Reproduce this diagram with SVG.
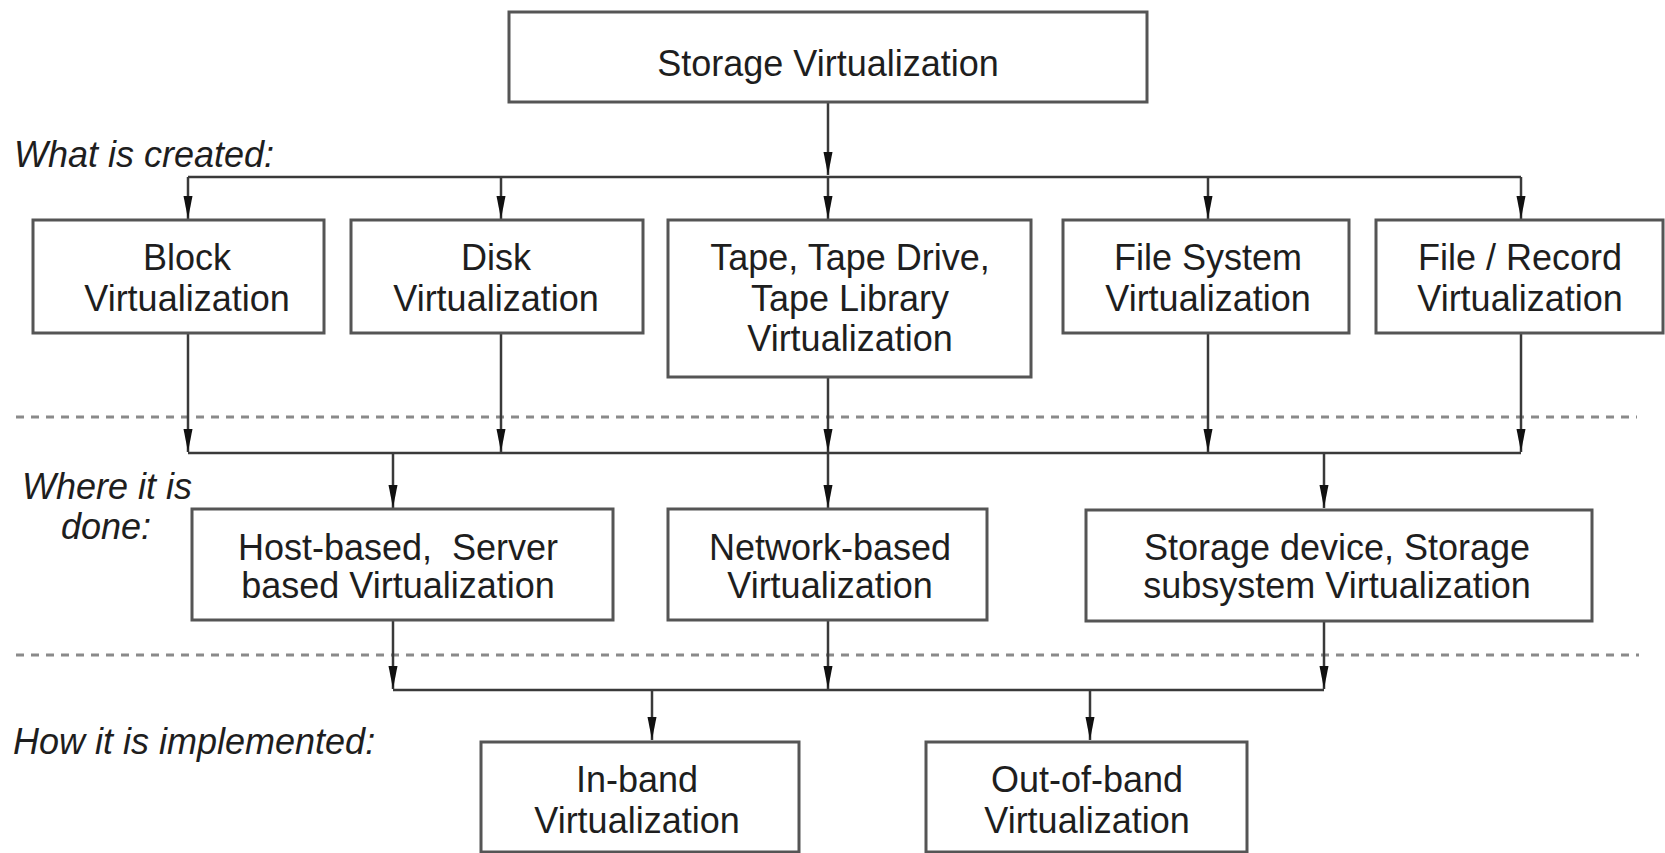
<svg xmlns="http://www.w3.org/2000/svg" width="1665" height="853" viewBox="0 0 1665 853">
<style>
  .box { fill: #ffffff; stroke: #555555; stroke-width: 3; }
  .t { font-family: "Liberation Sans", Arial, sans-serif; font-size: 36px; fill: #1e1e1e; text-anchor: middle; }
  .lbl { font-family: "Liberation Sans", Arial, sans-serif; font-size: 36px; fill: #1e1e1e; font-style: italic; }
  .ln { fill: none; stroke: #3a3a3a; stroke-width: 2.5; }
  .arr { fill: none; stroke: #3a3a3a; stroke-width: 2.5; marker-end: url(#ah); }
  .sep { fill: none; stroke: #8a8a8a; stroke-width: 3; stroke-dasharray: 8 7; }
</style>
<defs>
  <marker id="ah" markerUnits="userSpaceOnUse" markerWidth="24" markerHeight="10" viewBox="0 0 24 10" refX="23" refY="5" orient="auto">
    <path d="M0,0.5 L23,5 L0,9.5 z" fill="#111111"/>
  </marker>
</defs>
<rect width="1665" height="853" fill="#ffffff"/>

<g id="separators">
  <line class="sep" x1="16" y1="417" x2="1637" y2="417"/>
  <line class="sep" x1="16" y1="655" x2="1639" y2="655"/>
</g>

<g id="labels">
  <text class="lbl" x="14" y="167">What is created:</text>
  <text class="lbl" x="107" y="499" text-anchor="middle">Where it is</text>
  <text class="lbl" x="106" y="539" text-anchor="middle">done:</text>
  <text class="lbl" x="13" y="754">How it is implemented:</text>
</g>

<g id="connectors">
  <path class="arr" d="M828,102 V175"/>
  <path class="ln" d="M188,177 H1521"/>
  <path class="arr" d="M188,177 V219"/>
  <path class="arr" d="M501,177 V219"/>
  <path class="arr" d="M828,177 V219"/>
  <path class="arr" d="M1208,177 V219"/>
  <path class="arr" d="M1521,177 V219"/>

  <path class="arr" d="M188,333 V452"/>
  <path class="arr" d="M501,333 V452"/>
  <path class="arr" d="M828,377 V452"/>
  <path class="arr" d="M1208,333 V452"/>
  <path class="arr" d="M1521,333 V452"/>
  <path class="ln" d="M188,453 H1521"/>
  <path class="arr" d="M393,453 V508"/>
  <path class="arr" d="M828,453 V508"/>
  <path class="arr" d="M1324,453 V508"/>

  <path class="arr" d="M393,620 V689"/>
  <path class="arr" d="M828,620 V689"/>
  <path class="arr" d="M1324,621 V689"/>
  <path class="ln" d="M393,690 H1324"/>
  <path class="arr" d="M652,690 V740"/>
  <path class="arr" d="M1090,690 V740"/>
</g>

<g id="storage-virtualization">
  <rect class="box" x="509" y="12" width="638" height="90"/>
  <text class="t" x="828" y="76">Storage Virtualization</text>
</g>

<g id="block-virtualization">
  <rect class="box" x="33" y="220" width="291" height="113"/>
  <text class="t" x="187" y="270">Block</text>
  <text class="t" x="187" y="311">Virtualization</text>
</g>

<g id="disk-virtualization">
  <rect class="box" x="351" y="220" width="292" height="113"/>
  <text class="t" x="496" y="270">Disk</text>
  <text class="t" x="496" y="311">Virtualization</text>
</g>

<g id="tape-virtualization">
  <rect class="box" x="668" y="220" width="363" height="157"/>
  <text class="t" x="850" y="270">Tape, Tape Drive,</text>
  <text class="t" x="850" y="311">Tape Library</text>
  <text class="t" x="850" y="351">Virtualization</text>
</g>

<g id="filesystem-virtualization">
  <rect class="box" x="1063" y="220" width="286" height="113"/>
  <text class="t" x="1208" y="270">File System</text>
  <text class="t" x="1208" y="311">Virtualization</text>
</g>

<g id="filerecord-virtualization">
  <rect class="box" x="1376" y="220" width="287" height="113"/>
  <text class="t" x="1520" y="270">File / Record</text>
  <text class="t" x="1520" y="311">Virtualization</text>
</g>

<g id="host-based">
  <rect class="box" x="192" y="509" width="421" height="111"/>
  <text class="t" x="398" y="560" xml:space="preserve">Host-based,  Server</text>
  <text class="t" x="398" y="598">based Virtualization</text>
</g>

<g id="network-based">
  <rect class="box" x="668" y="509" width="319" height="111"/>
  <text class="t" x="830" y="560">Network-based</text>
  <text class="t" x="830" y="598">Virtualization</text>
</g>

<g id="storage-device">
  <rect class="box" x="1086" y="510" width="506" height="111"/>
  <text class="t" x="1337" y="560">Storage device, Storage</text>
  <text class="t" x="1337" y="598">subsystem Virtualization</text>
</g>

<g id="in-band">
  <rect class="box" x="481" y="742" width="318" height="110"/>
  <text class="t" x="637" y="792">In-band</text>
  <text class="t" x="637" y="833">Virtualization</text>
</g>

<g id="out-of-band">
  <rect class="box" x="926" y="742" width="321" height="110"/>
  <text class="t" x="1087" y="792">Out-of-band</text>
  <text class="t" x="1087" y="833">Virtualization</text>
</g>
</svg>
